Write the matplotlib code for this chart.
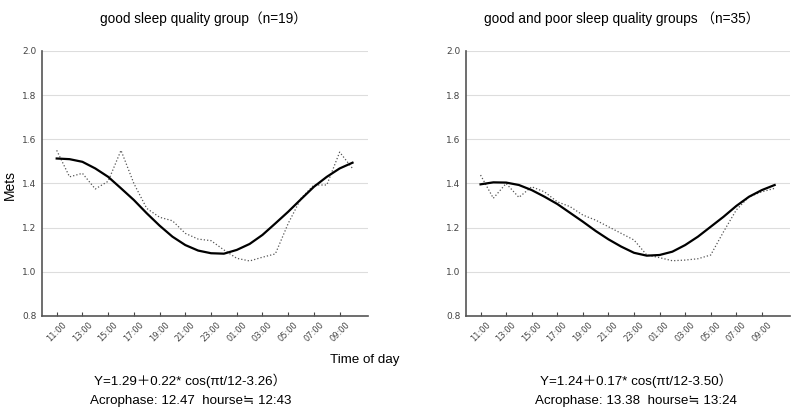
import matplotlib
matplotlib.use("Agg")
import matplotlib.pyplot as plt

plt.rcParams['font.family'] = ['Liberation Sans', 'Noto Sans CJK SC', 'DejaVu Sans']

# hours from 11:00 through 10:00 next day (24 hourly points)
hours = list(range(11, 35))
tick_hours = list(range(11, 35, 2))
tick_labels = ["11:00", "13:00", "15:00", "17:00", "19:00", "21:00",
               "23:00", "01:00", "03:00", "05:00", "07:00", "09:00"]

# good sleep quality group (n=19)
good_obs = [1.55, 1.43, 1.446, 1.375, 1.41, 1.55, 1.40, 1.287, 1.247, 1.231,
            1.174, 1.148, 1.141, 1.099, 1.061, 1.049, 1.066, 1.081, 1.219,
            1.333, 1.393, 1.393, 1.542, 1.468]
good_fit = [1.513, 1.51, 1.498, 1.468, 1.43, 1.378, 1.325, 1.265, 1.209, 1.159,
            1.121, 1.096, 1.084, 1.082, 1.099, 1.126, 1.167, 1.219, 1.272,
            1.329, 1.385, 1.43, 1.468, 1.494]

# good and poor sleep quality groups (n=35)
all_obs = [1.438, 1.333, 1.40, 1.337, 1.385, 1.362, 1.317, 1.295, 1.257, 1.234,
           1.204, 1.174, 1.144, 1.076, 1.064, 1.05, 1.053, 1.059, 1.076,
           1.181, 1.28, 1.34, 1.362, 1.378]
all_fit = [1.396, 1.405, 1.404, 1.393, 1.37, 1.34, 1.307, 1.267, 1.227, 1.185,
           1.147, 1.114, 1.086, 1.073, 1.076, 1.091, 1.121, 1.159, 1.204,
           1.249, 1.298, 1.34, 1.37, 1.393]

titles = ["good sleep quality group（n=19）",
          "good and poor sleep quality groups （n=35）"]
equations = ["Y=1.29＋0.22* cos(πt/12-3.26）",
             "Y=1.24＋0.17* cos(πt/12-3.50）"]
acrophases = ["Acrophase: 12.47  hourse≒ 12:43",
              "Acrophase: 13.38  hourse≒ 13:24"]
yticks = [0.8, 1.0, 1.2, 1.4, 1.6, 1.8, 2.0]

fig = plt.figure(figsize=(7.93, 4.13), dpi=100)
ax1 = fig.add_axes([0.053, 0.235, 0.411, 0.6416])
ax2 = fig.add_axes([0.5876, 0.235, 0.4086, 0.6416])

def draw(ax, obs, fit):
    ax.plot(hours, obs, linestyle=':', color='#555555', linewidth=0.9)
    ax.plot(hours, fit, linestyle='-', color='black', linewidth=1.6)
    ax.set_xlim(9.86, 35.2)
    ax.set_ylim(0.8, 2.0)
    ax.set_yticks(yticks)
    ax.set_yticklabels(["%.1f" % v for v in yticks], fontsize=6.5, color='#444444')
    ax.set_xticks(tick_hours)
    ax.set_xticklabels(tick_labels, rotation=45, fontsize=6, color='#444444',
                       family='DejaVu Sans')
    ax.tick_params(axis='x', direction='in', length=3, width=0.8, color='#444444', pad=3)
    ax.tick_params(axis='y', length=0, pad=4)
    for lab in ax.get_yticklabels():
        lab.set_family('DejaVu Sans')
    ax.grid(axis='y', color='#dddddd', linewidth=0.8)
    ax.set_axisbelow(True)
    ax.spines['top'].set_visible(False)
    ax.spines['right'].set_visible(False)
    ax.spines['left'].set_color('#555555')
    ax.spines['bottom'].set_color('#555555')
    ax.spines['left'].set_linewidth(1.2)
    ax.spines['bottom'].set_linewidth(1.2)

draw(ax1, good_obs, good_fit)
draw(ax2, all_obs, all_fit)

fig.text(0.256, 0.956, titles[0], ha='center', va='center', fontsize=9.8)
fig.text(0.784, 0.956, titles[1], ha='center', va='center', fontsize=9.8)
fig.text(0.013, 0.552, "Mets", rotation=90, ha='center', va='center', fontsize=10)
fig.text(0.46, 0.128, "Time of day", ha='center', va='center', fontsize=9.6)
fig.text(0.24, 0.077, equations[0], ha='center', va='center', fontsize=9.6)
fig.text(0.24, 0.029, acrophases[0], ha='center', va='center', fontsize=9.6)
fig.text(0.802, 0.077, equations[1], ha='center', va='center', fontsize=9.6)
fig.text(0.802, 0.029, acrophases[1], ha='center', va='center', fontsize=9.6)

fig.savefig("out.png", dpi=100)
